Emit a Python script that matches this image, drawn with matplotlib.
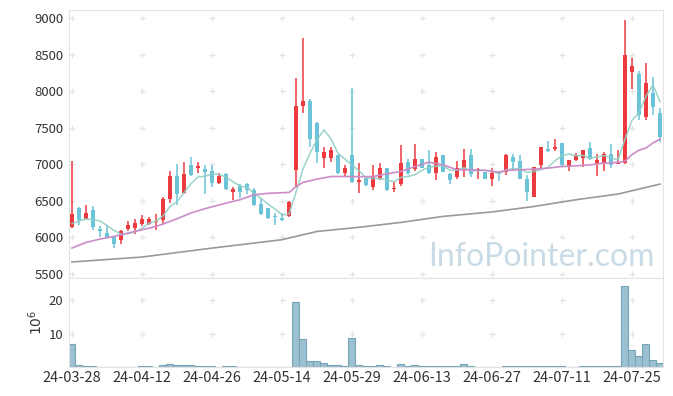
import numpy as np
import pandas as pd
import matplotlib
matplotlib.use('Agg')
import matplotlib.pyplot as plt

plt.rcParams['font.family'] = ['Noto Sans CJK KR', 'DejaVu Sans']

# trading days (KRX holidays removed)
holidays = ['2024-04-10', '2024-05-01', '2024-05-06', '2024-05-15', '2024-06-06']
dates = [d for d in pd.bdate_range('2024-03-28', '2024-07-31') if d.strftime('%Y-%m-%d') not in holidays]

opens = [6133, 6402, 6248, 6365, 6111, 6060, 6000, 5955, 6105, 6130,
         6185, 6175, 6205, 6240, 6516, 6840, 6598, 6990, 6940, 6935,
         6904, 6735, 6867, 6612, 6694, 6730, 6650, 6457, 6402, 6293,
         6266, 6284, 6926, 7793, 7865, 7564, 7090, 7081, 7127, 6877,
         7127, 6749, 6808, 6680, 6808, 6945, 6653, 6726, 7031, 6935,
         7068, 6990, 6872, 7127, 6867, 6817, 6949, 7127, 6904, 6890,
         6794, 6890, 6890, 7095, 7040, 6794, 6548, 6981, 7200, 7200,
         7287, 6958, 7050, 7077, 7223, 7004, 6995, 7141, 7000, 7013,
         8266, 8234, 7638, 7970, 7697]
highs = [7045, 6410, 6440, 6425, 6150, 6160, 6005, 6100, 6225, 6250,
         6300, 6280, 6315, 6550, 6905, 7000, 7027, 7095, 7027, 6990,
         6990, 6877, 6880, 6690, 6726, 6735, 6671, 6521, 6405, 6330,
         6330, 6490, 8175, 8722, 7890, 7570, 7236, 7236, 7130, 6990,
         8040, 7013, 6812, 6990, 7013, 6950, 6753, 7259, 7068, 7273,
         7075, 7187, 7164, 7130, 6880, 7036, 7205, 7205, 6945, 6895,
         6940, 6900, 7141, 7132, 7118, 6853, 6965, 7240, 7314, 7341,
         7290, 7060, 7154, 7195, 7305, 7136, 7159, 7273, 7187, 8968,
         8449, 8280, 8381, 8198, 7765]
lows = [6130, 6170, 6240, 6100, 6000, 6000, 5850, 5910, 6090, 6045,
        6150, 6160, 6100, 6170, 6465, 6440, 6590, 6840, 6877, 6590,
        6680, 6730, 6644, 6512, 6535, 6590, 6430, 6305, 6247, 6165,
        6220, 6280, 6680, 7697, 7240, 7013, 6945, 7027, 6858, 6817,
        6745, 6603, 6700, 6648, 6785, 6625, 6612, 6694, 6845, 6912,
        6940, 6870, 6781, 6885, 6726, 6794, 6830, 6830, 6800, 6790,
        6699, 6765, 6853, 6918, 6790, 6493, 6545, 6945, 7170, 7173,
        6980, 6900, 7040, 6967, 7060, 6840, 6900, 6945, 6995, 7000,
        8025, 7605, 7605, 7674, 7296]
closes = [6320, 6238, 6334, 6142, 6080, 6005, 5900, 6088, 6170, 6197,
          6252, 6250, 6225, 6525, 6840, 6585, 6867, 6845, 6976, 6898,
          6735, 6840, 6662, 6658, 6612, 6640, 6435, 6311, 6266, 6275,
          6240, 6484, 7797, 7865, 7350, 7160, 7164, 7195, 6872, 6949,
          6749, 6785, 6708, 6822, 6945, 6640, 6676, 7013, 6877, 7068,
          6945, 6872, 7095, 6890, 6776, 6945, 7054, 6858, 6931, 6794,
          6881, 6875, 7118, 7022, 6794, 6612, 6958, 7236, 7177, 7236,
          6981, 7054, 7127, 7191, 7063, 7059, 7141, 6981, 7027, 8494,
          8344, 7674, 8107, 7788, 7369]
# volume, millions of shares
volume = [7.0, 0.6, 0.3, 0.3, 0, 0, 0, 0, 0, 0,
          0.2, 0.2, 0, 0.5, 0.8, 0.5, 0.5, 0.5, 0.3, 0.3,
          0.3, 0, 0.2, 0.2, 0, 0, 0, 0, 0, 0,
          0, 0, 19.4, 8.4, 1.8, 1.8, 1.2, 0.5, 0.5, 0.3,
          8.7, 0.6, 0.3, 0.3, 0.5, 0.3, 0, 0.9, 0.3, 0.5,
          0.3, 0.3, 0.3, 0.3, 0.3, 0.3, 0.9, 0.3, 0, 0,
          0, 0, 0.2, 0.2, 0.2, 0.2, 0.2, 0.2, 0.2, 0.2,
          0.2, 0, 0, 0.2, 0.2, 0.2, 0.2, 0.2, 0.2, 24.3,
          5.2, 3.4, 6.9, 2.2, 1.2]

# first 5-day MA values (need closes before the window)
ma5_head = [6184, 6220, 6250, 6240]
# 20-day and 60-day MA
ma20_idx = [0, 2, 4, 6, 8, 10, 12, 13, 15, 17, 19, 21, 22, 24, 26, 28, 31, 32, 33, 35,
            37, 39, 41, 43, 45, 47, 49, 51, 53, 55, 57, 59, 61, 62, 64, 66, 68, 70, 72,
            74, 76, 78, 79, 80, 81, 82, 83, 84]
ma20_val = [5851, 5928, 5974, 6010, 6056, 6101, 6147, 6180, 6252, 6330, 6390, 6440, 6466,
            6512, 6580, 6600, 6612, 6690, 6749, 6794, 6830, 6830, 6828, 6830, 6867, 6900,
            6967, 7027, 6990, 6922, 6922, 6913, 6890, 6913, 6922, 6931, 6945, 6967, 6976,
            6990, 7013, 7022, 7040, 7130, 7190, 7220, 7290, 7340]
ma60_idx = [0, 10, 20, 30, 31, 35, 41, 47, 53, 60, 66, 72, 78, 84]
ma60_val = [5660, 5728, 5850, 5965, 5988, 6078, 6135, 6202, 6284, 6345, 6420, 6512, 6590, 6726]

up_color = '#ec3a3f'
down_color = '#6bc3d8'

x = np.arange(len(closes))
o = np.array(opens)
c = np.array(closes)
ma5 = pd.Series(closes).rolling(5).mean().to_numpy()
ma5[:4] = ma5_head

fig = plt.figure(figsize=(6.73, 3.96), dpi=100)
ax = fig.add_axes([0.1025, 0.298, 0.8826, 0.6767])
ax2 = fig.add_axes([0.1025, 0.0732, 0.8826, 0.2248], sharex=ax)

colors = np.where(c >= o, up_color, down_color)
ax.vlines(x, lows, highs, colors=colors, linewidth=1.1, zorder=3)
body = np.maximum(np.abs(c - o), 10)
ax.bar(x, body, bottom=np.minimum(o, c), width=0.7, color=colors, zorder=4)

ax.plot(x, ma5, color='#8ecfc4', linewidth=1.1, alpha=0.9, zorder=5)
ax.plot(ma20_idx, ma20_val, color='#cc8cc8', linewidth=1.2, zorder=5)
ax.plot(ma60_idx, ma60_val, color='#999999', linewidth=1.2, zorder=5)

ax2.bar(x, volume, width=1.0, color='#9dc0d0', edgecolor='#76a4b9', linewidth=0.8)

xt = np.arange(0, len(dates), 10)
yt = np.arange(5500, 9001, 500)
vt = [10, 20]
ax.set_xlim(-0.43, 84.43)
ax.set_ylim(5441, 9109)
ax.set_yticks(yt)
ax2.set_ylim(0, 26.6)
ax2.set_yticks(vt)
ax2.set_xticks(xt)
ax2.set_xticklabels([dates[i].strftime('%y-%m-%d') for i in xt])

# '+' grid marks at tick crossings
gx, gy = np.meshgrid(xt, yt)
ax.plot(gx.ravel(), gy.ravel(), '+', color='#e4e4e4', markersize=4, markeredgewidth=0.9, zorder=1)
gx, gy = np.meshgrid(xt, vt)
ax2.plot(gx.ravel(), gy.ravel(), '+', color='#e4e4e4', markersize=4, markeredgewidth=0.9, zorder=1)

for a in (ax, ax2):
    for s in a.spines.values():
        s.set_color('#e3e3e3')
    a.tick_params(length=0, labelsize=9.5, colors='#333333', pad=4)
ax.tick_params(labelbottom=False)
ax2.tick_params(axis='x', labelsize=10.5, pad=3)
ax2.set_ylabel(r'$10^6$', fontsize=10, color='#333333', labelpad=3)

fig.text(0.973, 0.328, 'InfoPointer.com', fontsize=23, color='#c9dbe6',
         ha='right', va='baseline', family='Lato', zorder=10)

fig.savefig('out.png', dpi=100)
